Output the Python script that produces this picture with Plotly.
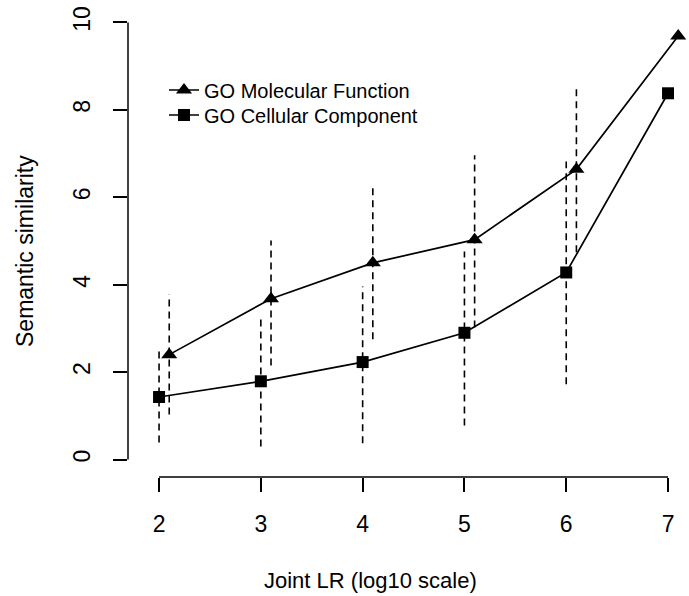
import plotly.graph_objects as go

# ---- data ----
x_cc = [2, 3, 4, 5, 6, 7]
x_mf = [2.1, 3.1, 4.1, 5.1, 6.1, 7.1]
mf = [2.40, 3.68, 4.50, 5.03, 6.64, 9.69]
cc = [1.43, 1.79, 2.23, 2.90, 4.28, 8.38]
mf_lo = [1.03, 2.15, 2.75, 3.02, 4.74, None]
mf_hi = [3.78, 5.01, 6.23, 6.96, 8.54, None]
cc_lo = [0.39, 0.30, 0.37, 0.78, 1.72, None]
cc_hi = [2.47, 3.21, 3.96, 4.76, 6.82, None]
x_ticks = [2, 3, 4, 5, 6, 7]
y_ticks = [0, 2, 4, 6, 8, 10]
series_names = ["GO Molecular Function", "GO Cellular Component"]
x_title = "Joint LR (log10 scale)"
y_title = "Semantic similarity"

FONT = "Liberation Sans, Arial, Helvetica, sans-serif"


def segs(xs, lo, hi):
    sx, sy = [], []
    for x, a, b in zip(xs, lo, hi):
        if a is None or b is None:
            continue
        sx += [x, x, None]
        sy += [a, b, None]
    return sx, sy


fig = go.Figure()

for xs, lo, hi in [(x_cc, cc_lo, cc_hi), (x_mf, mf_lo, mf_hi)]:
    sx, sy = segs(xs, lo, hi)
    fig.add_trace(go.Scatter(x=sx, y=sy, mode="lines", showlegend=False,
                             hoverinfo="skip",
                             line=dict(color="black", width=1.6, dash="7px,5px")))

fig.add_trace(go.Scatter(x=x_mf, y=mf, mode="lines+markers", name=series_names[0],
                         legend="legend",
                         line=dict(color="black", width=1.7),
                         marker=dict(symbol="triangle-up", size=14, color="black")))
fig.add_trace(go.Scatter(x=x_cc, y=cc, mode="lines+markers", name=series_names[1],
                         legend="legend2",
                         line=dict(color="black", width=1.7),
                         marker=dict(symbol="square", size=12, color="black")))

# R-style detached axis lines
fig.add_shape(type="line", xref="x", yref="paper", x0=min(x_ticks), x1=max(x_ticks),
              y0=0, y1=0, line=dict(color="black", width=1.5))
fig.add_shape(type="line", xref="paper", yref="y", x0=0, x1=0,
              y0=min(y_ticks), y1=max(y_ticks), line=dict(color="black", width=1.5))

PLOT_TOP, PLOT_BOTTOM = 5, 477
def ypaper(px):
    return (PLOT_BOTTOM - px) / (PLOT_BOTTOM - PLOT_TOP)

leg_common = dict(x=(164 - 128) / 561, xanchor="left", yanchor="middle",
                  bgcolor="rgba(0,0,0,0)", font=dict(size=20, family=FONT),
                  itemsizing="trace")

fig.update_layout(
    width=689, height=596,
    margin=dict(l=128, r=0, t=PLOT_TOP, b=596 - PLOT_BOTTOM),
    paper_bgcolor="white", plot_bgcolor="white",
    font=dict(family=FONT, color="black", size=22),
    showlegend=True,
    legend=dict(y=ypaper(90), **leg_common),
    legend2=dict(y=ypaper(115), **leg_common),
    xaxis=dict(range=[1.695, 7.206], tickvals=x_ticks, ticktext=[str(v) for v in x_ticks],
               showgrid=False, zeroline=False, showline=False,
               ticks="outside", ticklen=14, tickwidth=1.5, tickcolor="black",
               tickfont=dict(size=23), ticklabelstandoff=12),
    yaxis=dict(range=[-0.4, 10.4], tickvals=y_ticks, ticktext=[str(v) for v in y_ticks],
               showgrid=False, zeroline=False, showline=False,
               ticks="outside", ticklen=14, tickwidth=1.5, tickcolor="black",
               tickangle=-90, tickfont=dict(size=23), ticklabelstandoff=14),
    annotations=[
        dict(text=x_title, xref="paper", yref="paper", x=(370 - 128) / 561, y=0,
             yshift=-103, xanchor="center", yanchor="middle", showarrow=False,
             font=dict(size=22)),
        dict(text=y_title, xref="paper", yref="paper", x=0, y=ypaper(251), xshift=-103,
             xanchor="center", yanchor="middle", textangle=-90, showarrow=False,
             font=dict(size=23)),
    ],
)

fig.write_html("out.html", config={"displayModeBar": False},
               post_script="document.body.style.margin='0';")
